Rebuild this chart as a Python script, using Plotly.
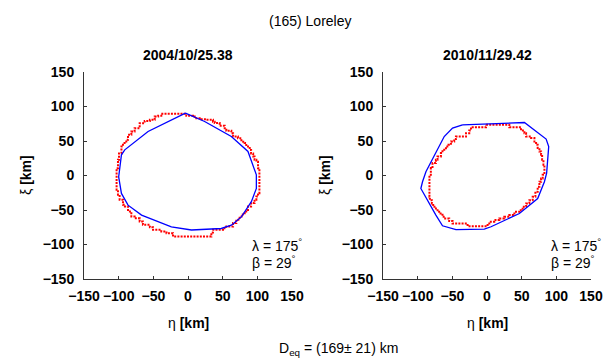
import plotly.graph_objects as go

# Observation epochs and pole solution
epochs = ["2004/10/25.38", "2010/11/29.42"]
pole_lambda = 175
pole_beta = 29
d_eq = 169
d_eq_err = 21

ticks = [-150, -100, -50, 0, 50, 100, 150]

# Occultation silhouette (pixelated outline), epoch 1
occ1_x = [-38.5, -4.8, -2.4, 7.2, 9.6, 16.8, 26.4, 36, 38.5, 45.7, 52.9, 55.3, 62.5, 65, 72,
          77, 81.7, 84, 89, 91, 94, 96, 98.6, 101, 103, 103, 101, 98.6, 96, 91,
          86.5, 84, 79, 74.5, 69.7, 65, 55.3, 50.5, 36, 33.7, -9.6, -21.6, -31, -38.5, -50.5,
          -55, -65, -69.7, -77, -81.7, -86.5, -91, -93.8, -98.6, -101, -103, -103, -101, -99.5, -96,
          -93.8, -89, -86.5, -81.7, -77, -69.7, -62.5, -55, -48, -43, -38.5]
occ1_y = [89.4, 89.4, 86.5, 85.5, 83, 81.6, 80.7, 78, 76, 72, 68.6, 65, 61.4, 56.5, 54,
          49, 47, 42, 37, 32, 27.5, 22.7, 20, 10.6, 3.4, -25.6, -30.4, -35, -40, -45,
          -50, -54.6, -59.4, -64, -69, -74, -76.3, -78.7, -82.6, -88.4, -88.4, -83.6, -81, -78.7, -75,
          -71.5, -66.7, -62, -59.4, -52, -45, -42.5, -35, -28, -20.8, -11, 10.6, 22.7, 32, 42,
          47, 51.7, 59, 63.8, 68.6, 75.8, 79, 80.7, 85.5, 86.5, 89.4]

# Shape model projection, epoch 1
model1_x = [-3.7, 24, 62.5, 86.5, 98.6, 98.6, 91.4, 77, 62.5, 48, 5, -24, -67, -86.5, -96,
            -100, -96, -91.2, -57.6, -3.7]
model1_y = [90.4, 78.3, 56.5, 34.8, 1, -18.8, -38, -60, -72, -76.8, -79, -74.3, -57.4, -43, -26,
            -2, 30, 37.2, 63.8, 90.4]

# Occultation silhouette (pixelated outline), epoch 2
occ2_x = [-1.4, 29.8, 32.2, 46.7, 49.1, 54, 56.4, 63.6, 68.4, 70.8, 73.1, 75.6, 78, 79.5, 81.4,
          82.8, 80.3, 78, 75.6, 73.1, 69.8, 65.9, 61.1, 56.4, 51.4, 46.7, 39.5, 32.2, 25, 17.8,
          10.5, 3.3, 0.9, -25.6, -28, -44.8, -49.7, -54.5, -60.3, -64.2, -69, -73.7, -77.6, -79.5, -82.4,
          -83, -81, -78.6, -73.7, -71.4, -66.5, -64.2, -59.2, -55.5, -52, -47.3, -44.8, -32.8, -30.3, -25.6,
          -23.1, -3.9, -1.4]
occ2_y = [73.5, 73.5, 70.1, 70.1, 65.2, 61.4, 56.5, 54.2, 49.3, 44.5, 39.7, 34.8, 30, 22.8, 15.5,
          1, -4.3, -9.1, -16.4, -23.6, -30.9, -35.7, -40.5, -45.4, -50.2, -52.6, -57.4, -59.9, -62.3, -64.6,
          -67.1, -69.6, -73.4, -73.4, -69.6, -69.6, -66.1, -62.3, -59.9, -55.1, -50.2, -45.4, -40.5, -35.7, -30.9,
          1, 10.7, 18, 22.8, 27.5, 32.5, 37.2, 42, 44.5, 49.3, 52.8, 56.5, 56.5, 61.4, 65.2,
          70.1, 70.1, 73.5]

# Shape model projection, epoch 2
model2_x = [-35.3, 54, 85.3, 89, 86, 82.8, 73.1, 46.7, 5.8, -3.9, -44.8, -64.2, -73.7, -90.6, -95.4,
            -93, -88.1, -61.7, -49.7, -35.3]
model2_y = [73.5, 76.8, 52.8, 42, 3.5, -9.1, -33.3, -55.1, -74.3, -77.7, -78.3, -72.9, -57.4, -28.4, -18.8,
            -9.1, 5.4, 56.5, 68.7, 73.5]

W, H = 609, 360
FONT = "Liberation Sans, Arial, Helvetica, sans-serif"

fig = go.Figure()

panels = [
    (occ1_x, occ1_y, model1_x, model1_y, "x", "y"),
    (occ2_x, occ2_y, model2_x, model2_y, "x2", "y2"),
]
for ox, oy, mx, my, xa, ya in panels:
    fig.add_trace(go.Scatter(
        x=ox, y=oy, mode="lines", line_shape="hv",
        line=dict(color="#ff0000", width=2, dash="2px,1.2px"),
        xaxis=xa, yaxis=ya, showlegend=False, hoverinfo="skip"))
    fig.add_trace(go.Scatter(
        x=mx, y=my, mode="lines",
        line=dict(color="#0000ff", width=1.3),
        xaxis=xa, yaxis=ya, showlegend=False, hoverinfo="skip"))

x_domains = [[84 / W, 292 / W], [383 / W, 591 / W]]
y_domain = [1 - 279 / H, 1 - 72 / H]

axis_common = dict(
    range=[-150, 150], tickvals=ticks, ticks="inside", ticklen=3,
    tickcolor="#333", showline=True, linecolor="#333", linewidth=1,
    showgrid=False, zeroline=False, mirror=False, automargin=False,
    tickfont=dict(family=FONT, size=14, color="black", weight="bold"),
    fixedrange=True,
)

layout_axes = {}
for i, dom in enumerate(x_domains):
    sfx = "" if i == 0 else str(i + 1)
    layout_axes["xaxis" + sfx] = dict(axis_common, domain=dom, anchor="y" + sfx,
                                      ticklabelstandoff=4)
    layout_axes["yaxis" + sfx] = dict(axis_common, domain=y_domain, anchor="x" + sfx,
                                      ticklabelstandoff=6)

fig.update_layout(
    width=W, height=H, margin=dict(l=0, r=0, t=0, b=0, autoexpand=False),
    paper_bgcolor="white", plot_bgcolor="white",
    font=dict(family=FONT, color="black"),
    **layout_axes,
)

ann = []
# Figure title
ann.append(dict(text="(165) Loreley", x=310 / W, y=1 - 21 / H, xref="paper", yref="paper",
                showarrow=False, font=dict(size=14), xanchor="center", yanchor="middle"))
for i, dom in enumerate(x_domains):
    sfx = "" if i == 0 else str(i + 1)
    cx = (dom[0] + dom[1]) / 2
    # Epoch title
    ann.append(dict(text="<b>%s</b>" % epochs[i], x=cx, y=1 - 55 / H, xref="paper", yref="paper",
                    showarrow=False, font=dict(size=14), xanchor="center", yanchor="middle"))
    # Axis titles
    ann.append(dict(text="η <b>[km]</b>", x=cx, y=1 - 323 / H, xref="paper", yref="paper",
                    showarrow=False, font=dict(size=14), xanchor="center", yanchor="middle"))
    ann.append(dict(text="ξ <b>[km]</b>", x=dom[0] - 58 / W, y=1 - 175 / H,
                    xref="paper", yref="paper", textangle=-90,
                    showarrow=False, font=dict(size=14), xanchor="center", yanchor="middle"))
    # Pole coordinates
    ann.append(dict(text="λ = %d<sup>°</sup>" % pole_lambda, x=89, y=-100,
                    xref="x" + sfx, yref="y" + sfx, showarrow=False, font=dict(size=14),
                    xanchor="left", yanchor="middle"))
    ann.append(dict(text="β = %d<sup>°</sup>" % pole_beta, x=89, y=-126,
                    xref="x" + sfx, yref="y" + sfx, showarrow=False, font=dict(size=14),
                    xanchor="left", yanchor="middle"))

ann.append(dict(text="D<sub>eq</sub> = (%d± %d) km" % (d_eq, d_eq_err),
                x=338 / W, y=1 - 349 / H, xref="paper", yref="paper",
                showarrow=False, font=dict(size=14), xanchor="center", yanchor="middle"))

fig.update_layout(annotations=ann)

fig.write_html("out.html")
